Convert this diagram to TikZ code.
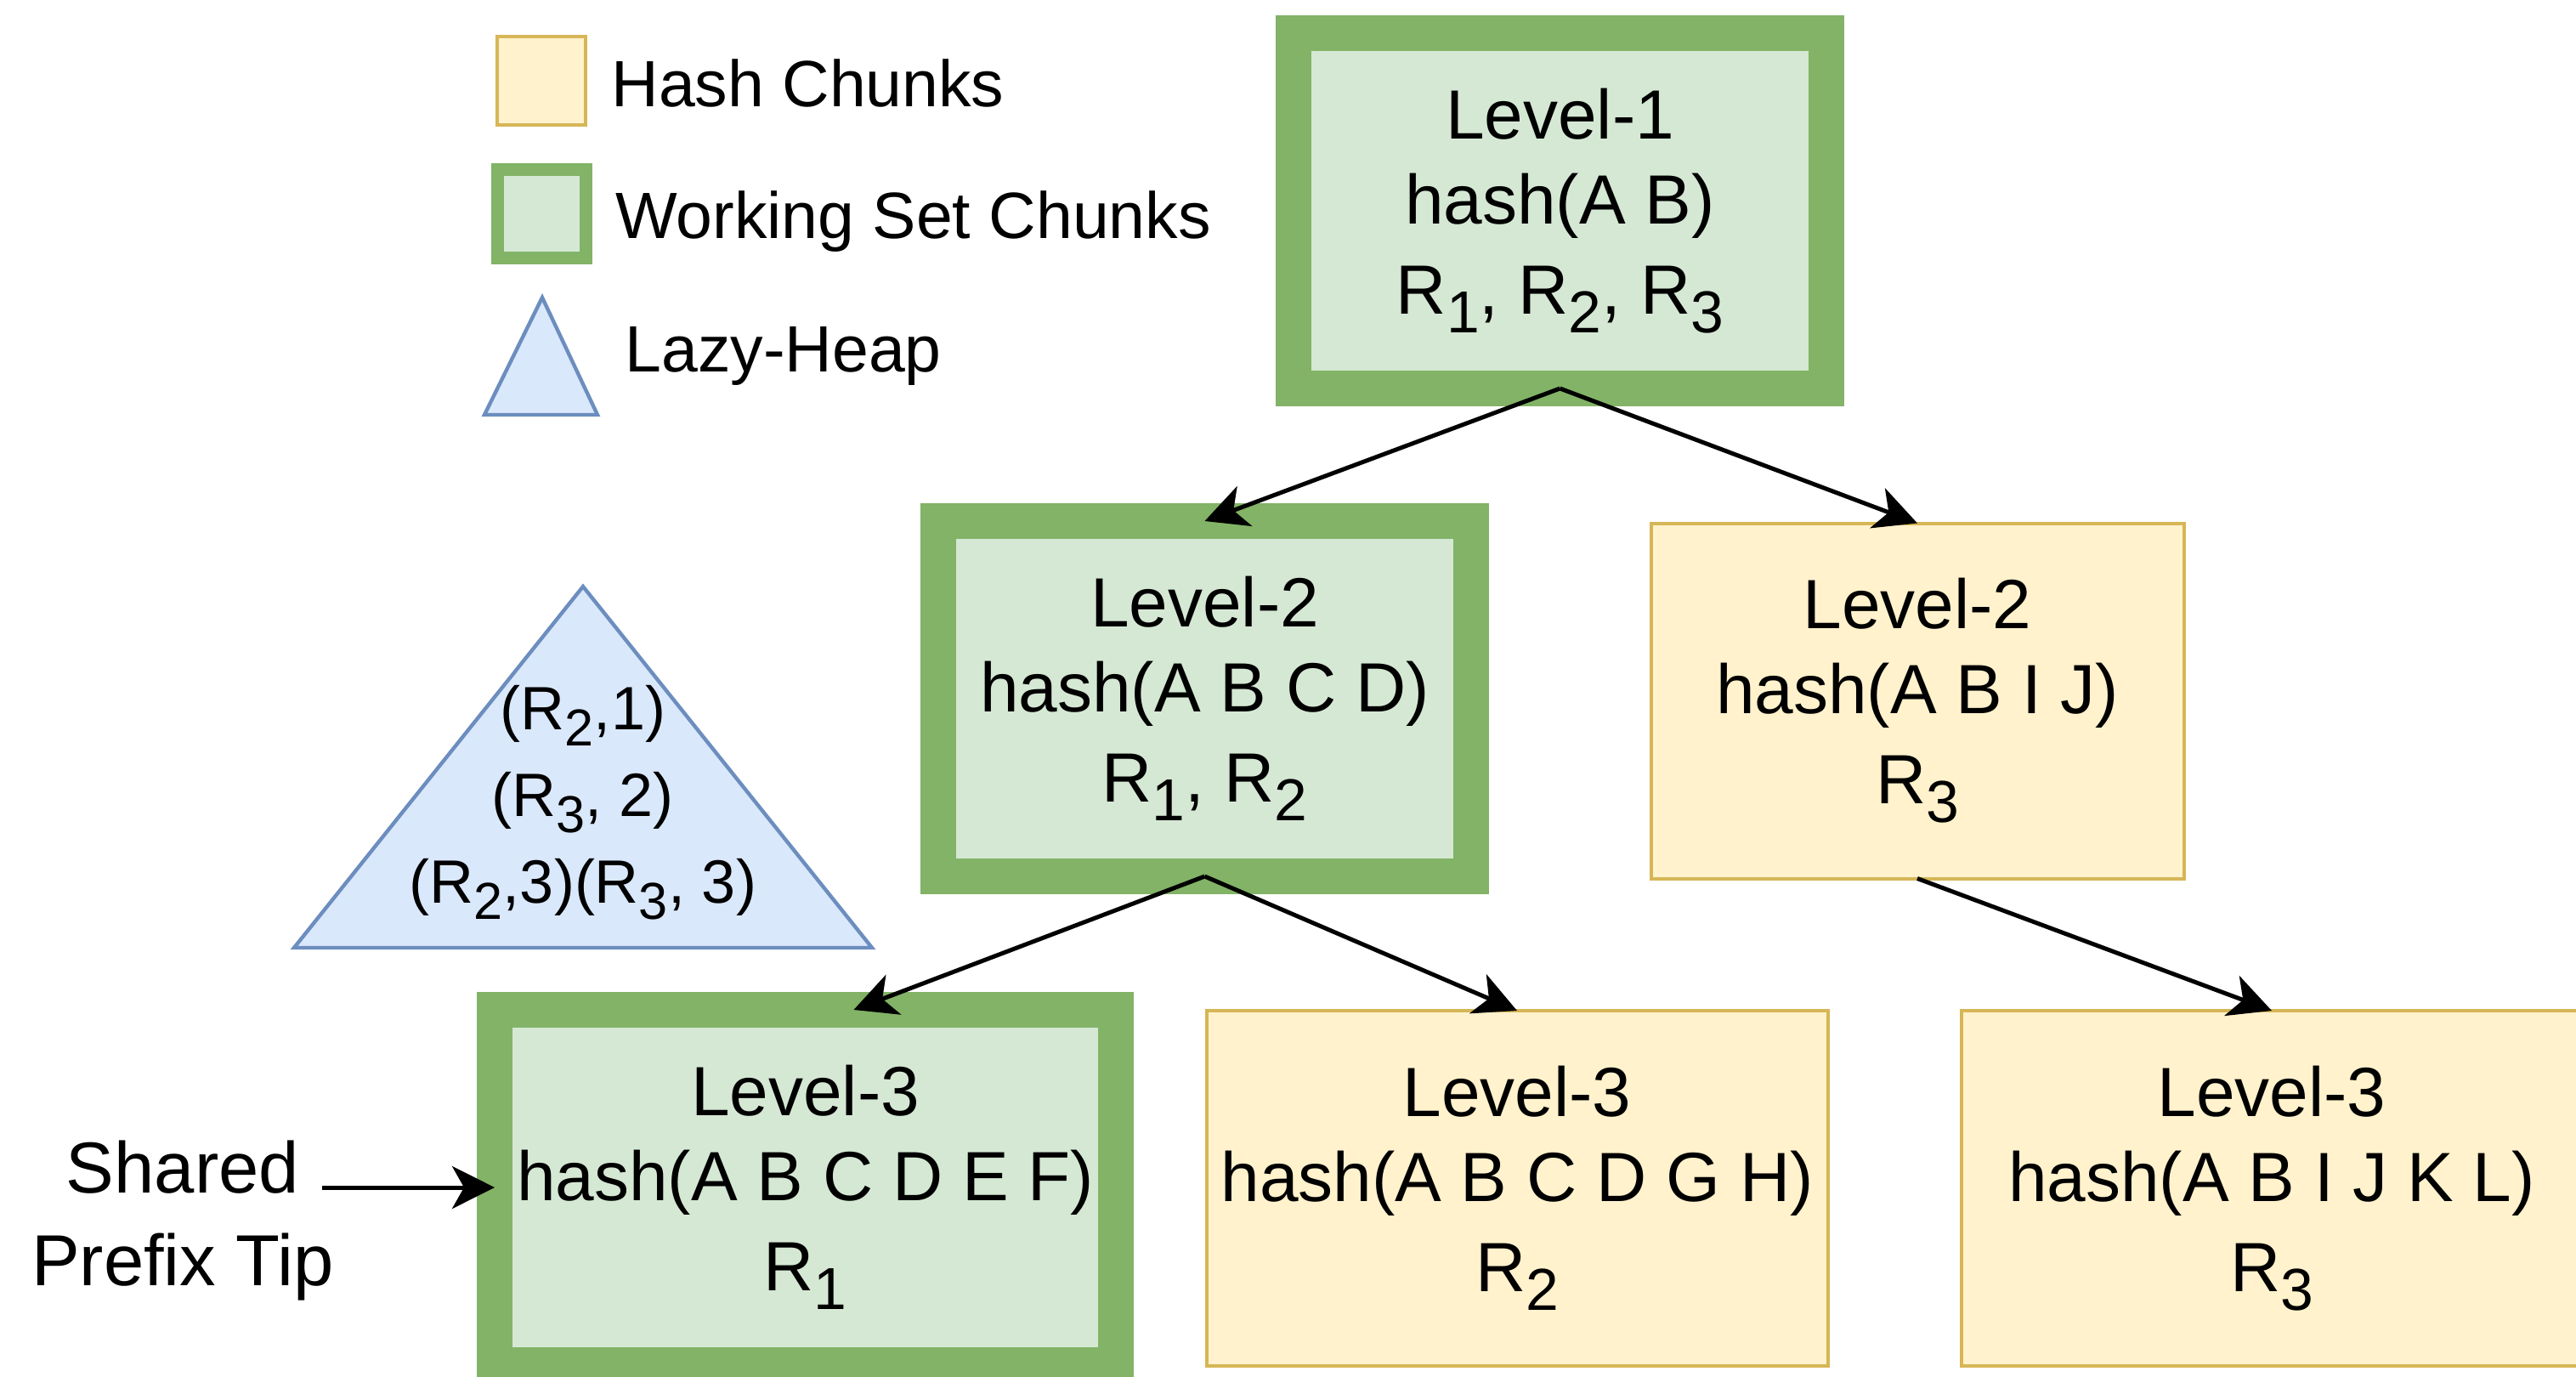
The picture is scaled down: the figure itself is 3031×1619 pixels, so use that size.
\documentclass[tikz,border=0pt]{standalone}
\usepackage{fontspec}
\setmainfont{Liberation Sans}
\usepackage{graphicx}
\usetikzlibrary{arrows.meta}
\definecolor{gstroke}{HTML}{82B366}
\definecolor{gfill}{HTML}{D5E8D4}
\definecolor{ystroke}{HTML}{D6B656}
\definecolor{yfill}{HTML}{FFF2CC}
\definecolor{bstroke}{HTML}{6C8EBF}
\definecolor{bfill}{HTML}{DAE8FC}
\newcommand{\dsub}[1]{\raisebox{-0.27em}{\scalebox{0.85}{#1}}}
\begin{document}
\begin{tikzpicture}[x=0.5pt,y=-0.5pt,
  boxtext/.style={align=center,font=\fontsize{41pt}{50pt}\selectfont, inner sep=0pt, outer sep=0pt},
  wsbox/.style={boxtext, draw=gstroke, fill=gfill, line width=21pt},
  hbox/.style={boxtext, draw=ystroke, fill=yfill, line width=2pt},
  narrowbox/.style={minimum width=313.5pt, minimum height=209pt},
  widebox/.style={minimum width=365.5pt, minimum height=209pt},
  link/.style={line width=2.5pt, -{Stealth[length=25pt,width=25pt,inset=7pt]}},
  legendtext/.style={font=\fontsize{38.5pt}{46pt}\selectfont, inner sep=0pt, anchor=base west},
  heap/.style={draw=bstroke, fill=bfill, line width=2.2pt, line join=miter}
]
\useasboundingbox (0,0) rectangle (3031,1619);

% legend
\node[draw=ystroke, fill=yfill, line width=2pt, minimum width=52pt, minimum height=52pt, inner sep=0pt, outer sep=0pt] (lgh) at (637,94.5) {};
\node[draw=gstroke, fill=gfill, line width=7.5pt, minimum width=52pt, minimum height=52pt, inner sep=0pt, outer sep=0pt] (lgw) at (637.5,251) {};
\draw[heap] (638,350) -- (703,488) -- (570,488) -- cycle;
\node[legendtext] (lth) at (719,125) {Hash Chunks};
\node[legendtext] (ltw) at (724,280) {Working Set Chunks};
\node[legendtext] (ltl) at (735,437) {Lazy-Heap};

% heap
\draw[heap] (686,690) -- (1026,1115) -- (346,1115) -- cycle;
\node[align=center, font=\fontsize{36pt}{51pt}\selectfont, inner sep=0pt] (heaptext) at (686,944) {(R\dsub{2},1)\\(R\dsub{3}, 2)\\(R\dsub{2},3)(R\dsub{3}, 3)};

% chunks
\node[wsbox, narrowbox] (l1) at (1835.5,248) {Level-1\\hash(A B)\\[3pt]R\dsub{1}, R\dsub{2}, R\dsub{3}};
\node[wsbox, narrowbox] (l2a) at (1417.5,822) {Level-2\\hash(A B C D)\\[3pt]R\dsub{1}, R\dsub{2}};
\node[hbox, narrowbox] (l2b) at (2256,824.5) {Level-2\\hash(A B I J)\\[3pt]R\dsub{3}};
\node[wsbox, widebox] (l3a) at (947.5,1397) {Level-3\\hash(A B C D E F)\\[3pt]R\dsub{1}};
\node[hbox, widebox] (l3b) at (1785,1398) {Level-3\\hash(A B C D G H)\\[3pt]R\dsub{2}};
\node[hbox, widebox] (l3c) at (2673,1398) {Level-3\\hash(A B I J K L)\\[3pt]R\dsub{3}};

% connectors
\draw[link] (l1.south) -- (l2a.north);
\draw[link] (l1.south) -- (l2b.north);
\draw[link] (l2a.south) -- ([xshift=28.5pt]l3a.north);
\draw[link] (l2a.south) -- (l3b.north);
\draw[link] (l2b.south) -- (l3c.north);

% shared prefix tip
\node[align=center, font=\fontsize{42.5pt}{54.5pt}\selectfont, inner sep=0pt] (spt) at (215,1435.5) {Shared\\Prefix Tip};
\coordinate (sptend) at (379,1397);
\draw[link] (sptend) -- (l3a.west);
\end{tikzpicture}
\end{document}
